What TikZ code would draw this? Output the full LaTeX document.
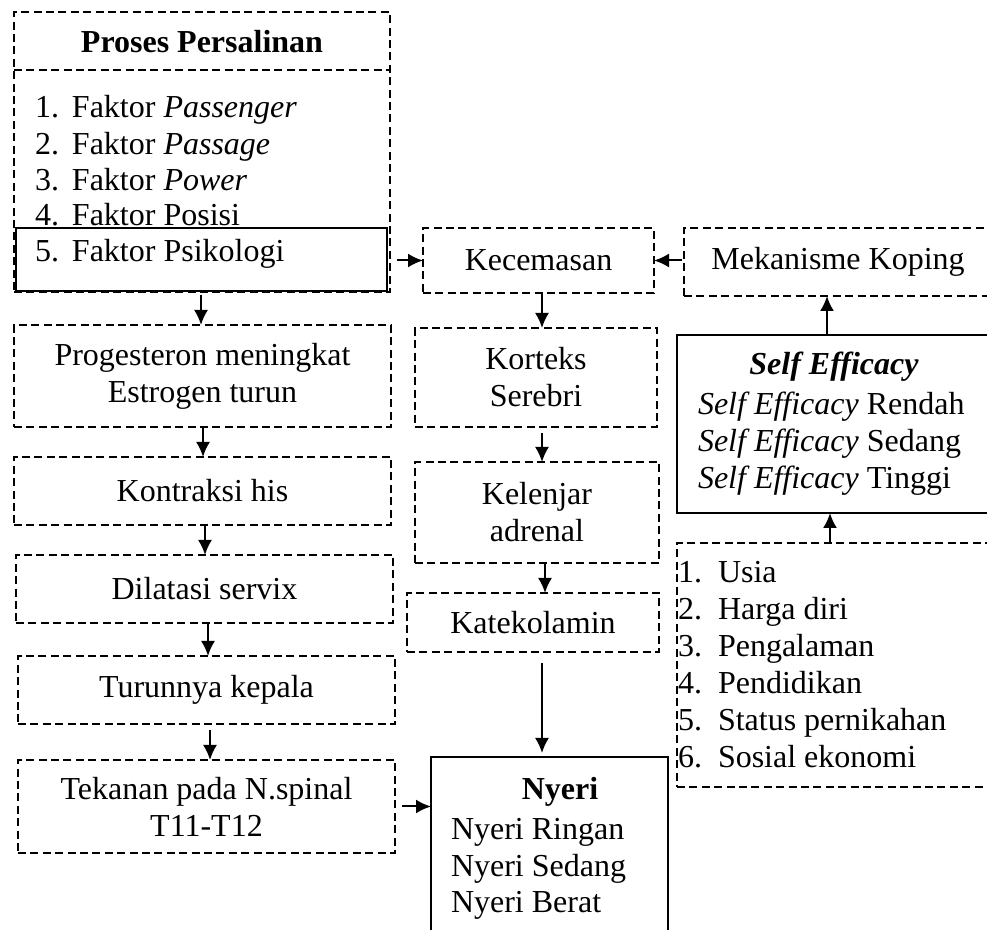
\documentclass[tikz,border=0pt]{standalone}
\usepackage{fontspec}
\setmainfont{Liberation Serif}
\usetikzlibrary{arrows.meta,calc}
\newcommand\myfs{\fontsize{16}{18.5}\selectfont}
\begin{document}
\begin{tikzpicture}[x=0.5pt,y=-0.5pt,
  every node/.style={font=\myfs},
  dbox/.style={draw, dash pattern=on 4pt off 2.2pt, line width=0.8pt, inner sep=0pt, outer sep=0pt, align=center},
  sbox/.style={draw, line width=1.1pt, inner sep=0pt, outer sep=0pt},
  arr/.style={-{Latex[length=7.5pt,width=7pt]}, line width=1pt},
  txt/.style={inner sep=0pt, outer sep=0pt}
]
\useasboundingbox (0,0) rectangle (987,930);
\clip (0,0) rectangle (987,930);

% Proses Persalinan
\node[dbox, minimum width=188pt, minimum height=140pt] (proses) at (202,152) {};
\coordinate (div) at (0,70);
\draw[dash pattern=on 4pt off 2.2pt, line width=0.8pt] (proses.west |- div) -- (proses.east |- div);
\node[sbox, minimum width=185.5pt, minimum height=31.5pt] (psi) at (201.5,259.5) {};
\node[txt, anchor=base] (ptitle) at (202,53) {\bfseries Proses Persalinan};
\node[txt, anchor=base west] (p1) at (35,118) {\makebox[18.5pt][l]{1.}Faktor \textit{Passenger}};
\node[txt, anchor=base west] (p2) at (35,155) {\makebox[18.5pt][l]{2.}Faktor \textit{Passage}};
\node[txt, anchor=base west] (p3) at (35,191) {\makebox[18.5pt][l]{3.}Faktor \textit{Power}};
\node[txt, anchor=base west] (p4) at (35,226) {\makebox[18.5pt][l]{4.}Faktor Posisi};
\node[txt, anchor=base west] (p5) at (35,262) {\makebox[18.5pt][l]{5.}Faktor Psikologi};

% left column
\node[dbox, minimum width=188.5pt, minimum height=51pt] (prog) at (202.5,376) {Progesteron meningkat\\Estrogen turun};
\node[dbox, minimum width=188.5pt, minimum height=34pt] (kon) at (202.5,491) {Kontraksi his};
\node[dbox, minimum width=188.5pt, minimum height=34pt] (dil) at (204.5,589) {Dilatasi servix};
\node[dbox, minimum width=188.5pt, minimum height=34pt] (tur) at (206.5,690) {Turunnya kepala};
\node[dbox, minimum width=188.5pt, minimum height=46.5pt] (tek) at (206.5,806.5) {Tekanan pada N.spinal\\T11-T12};

% middle column
\node[dbox, minimum width=115.5pt, minimum height=32.5pt] (kec) at (538.5,260.5) {Kecemasan};
\node[dbox, minimum width=121pt, minimum height=49.5pt] (kor) at (536,377.5) {Korteks\\Serebri};
\node[dbox, minimum width=122pt, minimum height=50.5pt] (kel) at (537,512.5) {Kelenjar\\adrenal};
\node[dbox, minimum width=126pt, minimum height=29.5pt] (kat) at (533,622.5) {Katekolamin};

% Nyeri
\node[sbox, minimum width=118.5pt, minimum height=96.5pt] (nyeri) at (549.5,853.5) {};
\node[txt, anchor=base] (ntitle) at (560,800) {\bfseries Nyeri};
\node[txt, anchor=base west] (n1) at (451,840) {Nyeri Ringan};
\node[txt, anchor=base west] (n2) at (451,877) {Nyeri Sedang};
\node[txt, anchor=base west] (n3) at (451,913) {Nyeri Berat};

% right column
\node[dbox, minimum width=154pt, minimum height=34pt] (mek) at (838,262) {Mekanisme Koping};
\node[sbox, minimum width=157.5pt, minimum height=89pt] (se) at (834.5,424) {};
\node[txt, anchor=base] (stitle) at (834,375) {\bfseries\itshape Self Efficacy};
\node[txt, anchor=base west] (s1) at (698,415) {\textit{Self Efficacy} Rendah};
\node[txt, anchor=base west] (s2) at (698,452) {\textit{Self Efficacy} Sedang};
\node[txt, anchor=base west] (s3) at (698,489) {\textit{Self Efficacy} Tinggi};

\node[dbox, minimum width=157.5pt, minimum height=122pt] (fac) at (834.5,665) {};
\node[txt, anchor=base west] (f1) at (678,583) {\makebox[20pt][l]{1.}Usia};
\node[txt, anchor=base west] (f2) at (678,620) {\makebox[20pt][l]{2.}Harga diri};
\node[txt, anchor=base west] (f3) at (678,657) {\makebox[20pt][l]{3.}Pengalaman};
\node[txt, anchor=base west] (f4) at (678,694) {\makebox[20pt][l]{4.}Pendidikan};
\node[txt, anchor=base west] (f5) at (678,731) {\makebox[20pt][l]{5.}Status pernikahan};
\node[txt, anchor=base west] (f6) at (678,768) {\makebox[20pt][l]{6.}Sosial ekonomi};

% connectors
\draw[arr, shorten <=3.5pt] (proses.east |- kec.west) -- (kec.west);
\draw[arr, shorten <=1pt] (mek.west |- kec.east) -- (kec.east);
\draw[arr] ([xshift=-3.75pt]se.north) -- ([xshift=-3.75pt]se.north |- mek.south);
\draw[arr] ([xshift=-2.25pt]fac.north) -- ([xshift=-2.25pt]fac.north |- se.south);

\draw[arr, shorten <=1.5pt] ([xshift=-0.5pt]proses.south) -- ([xshift=-0.5pt]proses.south |- prog.north);
\draw[arr] ([xshift=0.25pt]prog.south) -- ([xshift=0.25pt]prog.south |- kon.north);
\draw[arr] ([xshift=1.25pt]kon.south) -- ([xshift=1.25pt]kon.south |- dil.north);
\draw[arr] ([xshift=1.75pt]dil.south) -- ([xshift=1.75pt]dil.south |- tur.north);
\draw[arr, shorten <=3pt] ([xshift=1.75pt]tur.south) -- ([xshift=1.75pt]tur.south |- tek.north);
\draw[arr, shorten <=3.5pt] (tek.east) -- (tek.east -| nyeri.west);

\draw[arr] ([xshift=1.75pt]kec.south) -- ([xshift=1.75pt]kec.south |- kor.north);
\draw[arr, shorten <=3pt] ([xshift=3pt]kor.south) -- ([xshift=3pt]kor.south |- kel.north);
\draw[arr] ([xshift=4pt]kel.south) -- ([xshift=4pt]kel.south |- kat.north);
\draw[arr, shorten <=5.5pt, shorten >=2pt] ([xshift=4.5pt]kat.south) -- ([xshift=4.5pt]kat.south |- nyeri.north);
\end{tikzpicture}
\end{document}
